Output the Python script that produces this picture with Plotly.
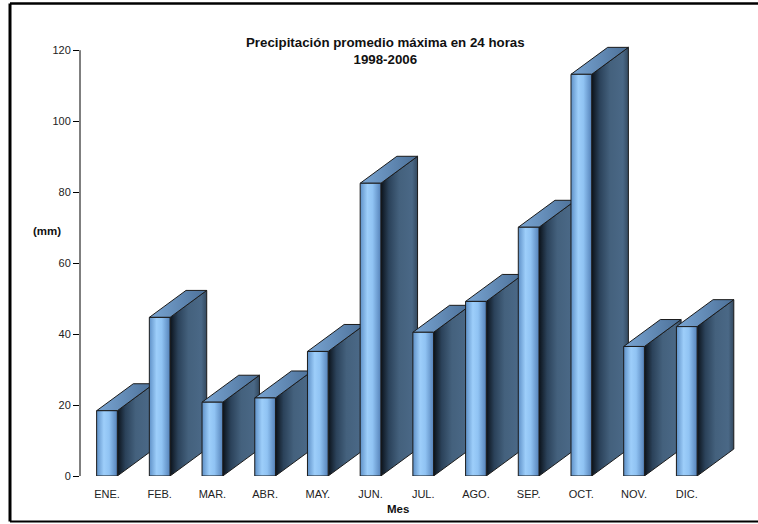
import plotly.graph_objects as go

# Monthly maximum 24-hour precipitation averages, 1998-2006
months = ["ENE.", "FEB.", "MAR.", "ABR.", "MAY.", "JUN.",
          "JUL.", "AGO.", "SEP.", "OCT.", "NOV.", "DIC."]
precip_mm = [18.4, 44.7, 20.8, 22.0, 35.1, 82.5, 40.5, 49.2, 70.1, 113.2, 36.5, 42.1]
y_ticks = [0, 20, 40, 60, 80, 100, 120]

# Pseudo-3D bar geometry (in axis units)
FRONT_W = 0.393
DEPTH_X = 0.696
DEPTH_Y = 7.6

FRONT_SCALE = [[0, "#5e90c7"], [0.35, "#9dcefa"], [0.6, "#90c3f3"], [1, "#5582b9"]]
SIDE_SCALE = [[0, "#0b121a"], [0.22, "#2b425a"], [0.5, "#44617d"], [0.85, "#4a6886"], [1, "#33495f"]]
TOP_SCALE = [[0, "#79a5d3"], [1, "#4c7098"]]
EDGE = dict(color="#1b1b1b", width=1)

FONT = "Liberation Sans, Arial, sans-serif"

fig = go.Figure()


def face(xs, ys, scale):
    fig.add_trace(go.Scatter(
        x=xs, y=ys, mode="lines", fill="toself",
        fillgradient=dict(type="horizontal", colorscale=scale),
        line=EDGE, hoverinfo="skip", showlegend=False,
    ))


for i, v in enumerate(precip_mm):
    x0 = i - FRONT_W / 2
    x1 = i + FRONT_W / 2
    # side face
    face([x1, x1, x1 + DEPTH_X, x1 + DEPTH_X, x1],
         [0, v, v + DEPTH_Y, DEPTH_Y, 0], SIDE_SCALE)
    # top face
    face([x0, x1, x1 + DEPTH_X, x0 + DEPTH_X, x0],
         [v, v, v + DEPTH_Y, v + DEPTH_Y, v], TOP_SCALE)
    # front face
    face([x0, x1, x1, x0, x0], [0, 0, v, v, 0], FRONT_SCALE)

# value axis line (drawn only over the labelled span)
fig.add_shape(type="line", xref="paper", yref="y", x0=0, x1=0, y0=0, y1=120,
              line=dict(color="black", width=1))

# outer frame (left, top and bottom edges; the right edge runs off the page)
FRAME_L = (10 - 80) / 660
FRAME_R = (770 - 80) / 660
FRAME_T = (476 - 3.5) / 440
FRAME_B = (476 - 521.5) / 440
fig.add_shape(type="line", xref="paper", yref="paper",
              x0=FRAME_L, x1=FRAME_L, y0=FRAME_B, y1=FRAME_T,
              line=dict(color="black", width=3))
fig.add_shape(type="line", xref="paper", yref="paper",
              x0=FRAME_L, x1=FRAME_R, y0=FRAME_T, y1=FRAME_T,
              line=dict(color="black", width=2.5))
fig.add_shape(type="line", xref="paper", yref="paper",
              x0=FRAME_L, x1=FRAME_R, y0=FRAME_B, y1=FRAME_B,
              line=dict(color="black", width=2))

fig.add_annotation(text="<b>Precipitación promedio máxima en 24 horas<br>1998-2006</b>",
                   xref="paper", yref="paper", x=(385 - 80) / 660, y=(476 - 50.5) / 440,
                   xanchor="center", yanchor="middle",
                   showarrow=False, font=dict(family=FONT, size=13.3, color="#111"),
                   align="center")
fig.add_annotation(text="<b>(mm)</b>", xref="paper", yref="paper",
                   x=(47 - 80) / 660, y=(476 - 231) / 440,
                   xanchor="center", yanchor="middle",
                   showarrow=False, font=dict(family=FONT, size=11.5, color="#111"))
fig.add_annotation(text="<b>Mes</b>", xref="paper", yref="paper",
                   x=(398 - 80) / 660, y=(476 - 508.5) / 440,
                   xanchor="center", yanchor="middle",
                   showarrow=False, font=dict(family=FONT, size=11.5, color="#111"))

fig.update_layout(
    width=758, height=524, autosize=False,
    margin=dict(l=80, r=18, t=36, b=48),
    paper_bgcolor="white", plot_bgcolor="white",
    font=dict(family=FONT, size=11, color="#222"),
    xaxis=dict(range=[-0.512, 12.01], tickmode="array",
               tickvals=list(range(len(months))), ticktext=months,
               showgrid=False, zeroline=False, showline=False, ticks="",
               ticklabelstandoff=10, tickfont=dict(size=11, color="#222")),
    yaxis=dict(range=[0, 124], tickmode="array", tickvals=y_ticks,
               showgrid=False, zeroline=False, showline=False,
               ticks="outside", ticklen=6, tickcolor="black", tickwidth=1,
               tickfont=dict(size=11, color="#222")),
)

fig.write_html("out.html")
